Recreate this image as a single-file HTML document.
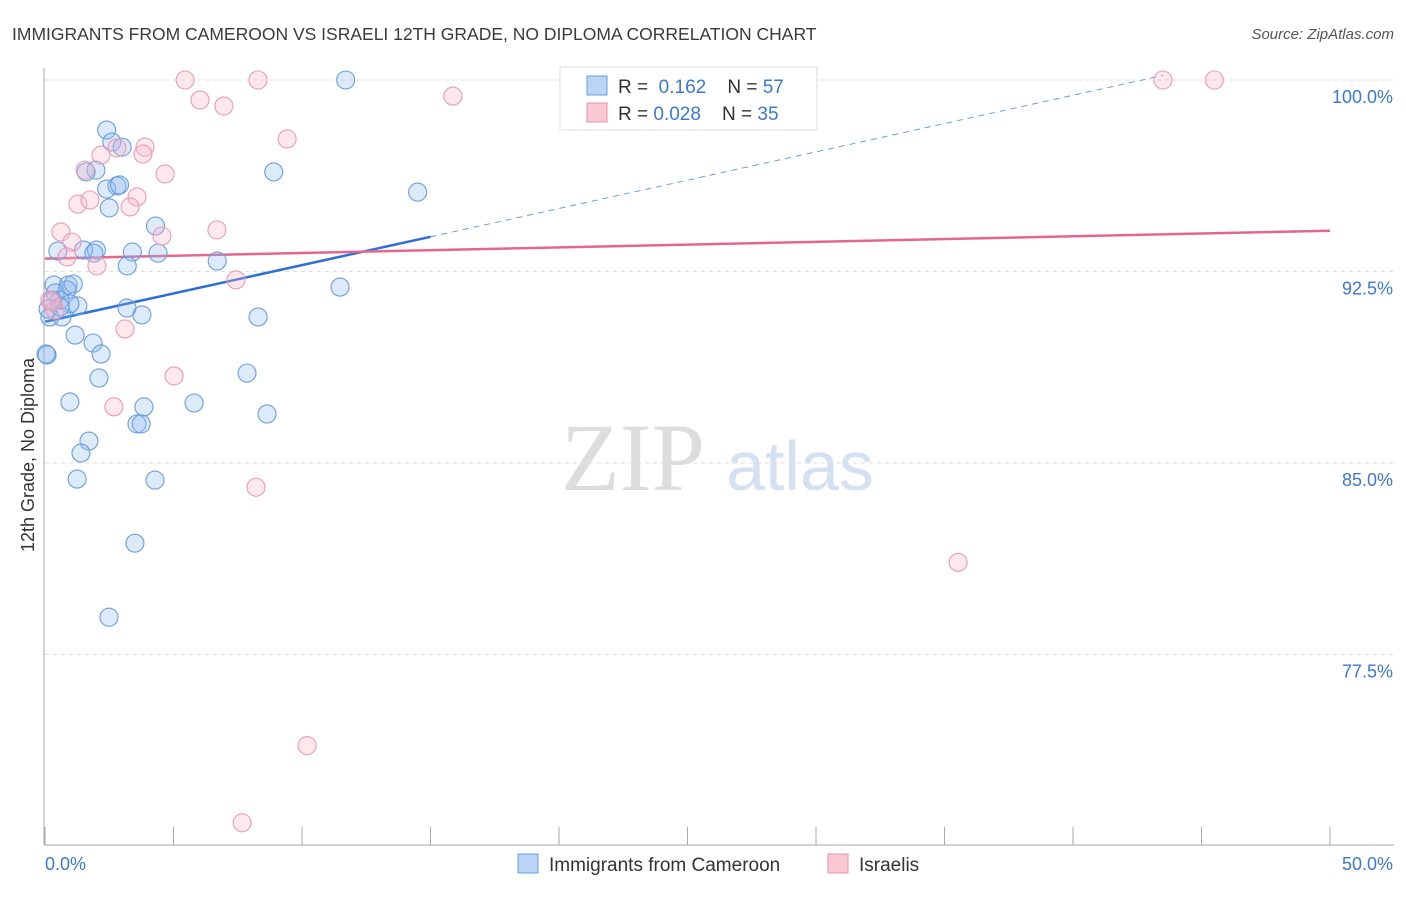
<!DOCTYPE html>
<html><head><meta charset="utf-8"><style>
body{margin:0;background:#fff;font-family:"Liberation Sans",sans-serif}
</style></head><body>
<svg width="1406" height="892" xmlns="http://www.w3.org/2000/svg" id="chart">
<text x="12" y="40" font-size="17.5" fill="#3a3a3a">IMMIGRANTS FROM CAMEROON VS ISRAELI 12TH GRADE, NO DIPLOMA CORRELATION CHART</text>
<text x="1394" y="39" font-size="15" fill="#555" font-style="italic" text-anchor="end">Source: ZipAtlas.com</text>
<text x="633" y="490" font-size="96" fill="#ddd" font-family="Liberation Serif" text-anchor="middle">ZIP</text>
<text x="800" y="490" font-size="70" fill="#d3e1f3" text-anchor="middle">atlas</text>
<g id="grid"></g><g id="axes"></g><g id="lines"></g><g id="pts"></g>
<text transform="translate(34,455) rotate(-90)" font-size="18" fill="#333" text-anchor="middle">12th Grade, No Diploma</text>
<g>
<rect x="560" y="67" width="257" height="63" fill="#fff" stroke="#ddd"/>
<rect x="587" y="76" width="20" height="19" fill="#b9d4f5" stroke="#6a9de0"/>
<rect x="587" y="103" width="20" height="19" fill="#f9c7d6" stroke="#e890ab"/>
<text x="618" y="93" font-size="19" fill="#333">R = <tspan fill="#3b78d4">&#160;0.162</tspan>&#160;&#160;&#160; N = <tspan fill="#3b78d4">57</tspan></text>
<text x="618" y="120" font-size="19" fill="#333">R = <tspan fill="#3b78d4">0.028</tspan>&#160;&#160;&#160; N = <tspan fill="#3b78d4">35</tspan></text>
</g>
<g>
<rect x="518" y="854" width="20" height="19" fill="#b9d4f5" stroke="#6a9de0"/>
<text x="549" y="871" font-size="19" fill="#333">Immigrants from Cameroon</text>
<rect x="828" y="854" width="20" height="19" fill="#f9c7d6" stroke="#e890ab"/>
<text x="859" y="871" font-size="19" fill="#333">Israelis</text>
</g>
</svg>
<script>
const xTicks=[0,5,10,15,20,25,30,35,40,45,50];
const yTicks=[100,92.5,85,77.5];
const yTickLabels=["100.0%","92.5%","85.0%","77.5%"];
const blueX=[11.7,2.4,2.6,3.0,1.98,1.6,8.9,2.4,2.8,2.9,14.5,2.5,4.3,0.5,1.5,2.0,1.9,3.4,4.4,6.7,3.2,0.35,0.9,1.1,0.86,0.4,0.58,1.28,0.97,3.19,3.77,8.29,11.48,0.19,0.66,1.17,1.87,2.18,0.08,0.04,7.86,2.1,0.97,5.8,3.85,8.64,1.71,3.58,3.74,1.4,1.25,4.28,3.5,2.49,0.27,0.58,0.12];
const blueY=[100,98.04,97.57,97.37,96.47,96.4,96.4,95.73,95.85,95.89,95.61,94.99,94.28,93.3,93.34,93.34,93.22,93.26,93.22,92.91,92.72,91.97,91.97,92.01,91.78,91.66,91.38,91.15,91.23,91.07,90.8,90.72,91.89,90.72,90.72,90.01,89.7,89.27,89.23,89.27,88.52,88.33,87.39,87.35,87.2,86.92,85.86,86.53,86.53,85.39,84.37,84.33,81.86,78.96,91.38,91.11,91.03];
const pinkX=[5.45,8.29,43.5,45.5,6.03,6.96,15.87,9.42,3.89,2.18,3.81,2.8,1.56,4.67,3.58,1.28,1.75,3.31,6.69,0.62,4.55,1.05,0.86,2.02,7.43,0.19,0.39,3.11,5.02,2.68,8.21,35.53,10.2,7.67,0.27];
const pinkY=[100,100,100,100,99.22,98.98,99.37,97.69,97.37,97.06,97.1,97.34,96.47,96.32,95.42,95.14,95.3,95.03,94.13,94.05,93.89,93.65,93.07,92.72,92.17,91.38,90.99,90.25,88.41,87.2,84.05,81.11,73.93,70.91,91.31];
const NS="http://www.w3.org/2000/svg";
const X=v=>45+v/50*1285, Y=v=>80+(100-v)/7.5*191.5;
function mk(t,a,p){const e=document.createElementNS(NS,t);for(const k in a)e.setAttribute(k,a[k]);document.getElementById(p).appendChild(e);return e;}
yTicks.forEach((t,i)=>{
 let l=mk('line',{x1:45,x2:1394,y1:Y(t),y2:Y(t),stroke:'#ddd','stroke-dasharray':'4,4'},'grid');
 
 
 let tx=mk('text',{x:1393,y:Y(t)+23,'font-size':18,fill:'#3b78d4','text-anchor':'end'},'grid');tx.textContent=yTickLabels[i];
 
 
});
let ax=mk('line',{x1:44,x2:44,y1:68,y2:845,stroke:'#aaa'},'axes');


let bx=mk('line',{x1:44,x2:1394,y1:845,y2:845,stroke:'#aaa'},'axes');


xTicks.forEach(t=>{let l=mk('line',{x1:X(t),x2:X(t),y1:827,y2:845,stroke:'#aaa'},'axes');
 
 });
[[0,"0.0%","start",45],[50,"50.0%","end",1393]].forEach(d=>{let t=mk('text',{x:d[3],y:870,'font-size':18,fill:'#3b78d4','text-anchor':d[2]},'axes');t.textContent=d[1];
 
 });
function reg(xs,ys){const n=xs.length;let mx=0,my=0;for(let i=0;i<n;i++){mx+=xs[i];my+=ys[i];}mx/=n;my/=n;let a=0,b=0;for(let i=0;i<n;i++){a+=(xs[i]-mx)*(ys[i]-my);b+=(xs[i]-mx)**2;}const s=a/b;return x=>my+s*(x-mx);}
const fb=reg(blueX,blueY), fp=reg(pinkX,pinkY);
let l1=mk('line',{x1:X(0),y1:Y(fb(0)),x2:X(15),y2:Y(fb(15)),stroke:'#2d6fd6','stroke-width':2.5},'lines');


let l2=mk('line',{x1:X(15),y1:Y(fb(15)),x2:X(43.5),y2:Y(fb(43.5)),stroke:'#6a9de0','stroke-width':1,'stroke-dasharray':'6,5'},'lines');


let l3=mk('line',{x1:X(0),y1:Y(fp(0)),x2:X(50),y2:Y(fp(50)),stroke:'#e4668f','stroke-width':2.5},'lines');


blueX.forEach((v,i)=>{let c=mk('circle',{cx:X(v),cy:Y(blueY[i]),r:9,fill:'rgba(140,185,240,0.3)',stroke:'#6a9de0','stroke-width':1.1},'pts');
 
 });
pinkX.forEach((v,i)=>{let c=mk('circle',{cx:X(v),cy:Y(pinkY[i]),r:9,fill:'rgba(248,180,200,0.3)',stroke:'#ec9bb5','stroke-width':1.1},'pts');
 
 });
</script>
</body></html>
